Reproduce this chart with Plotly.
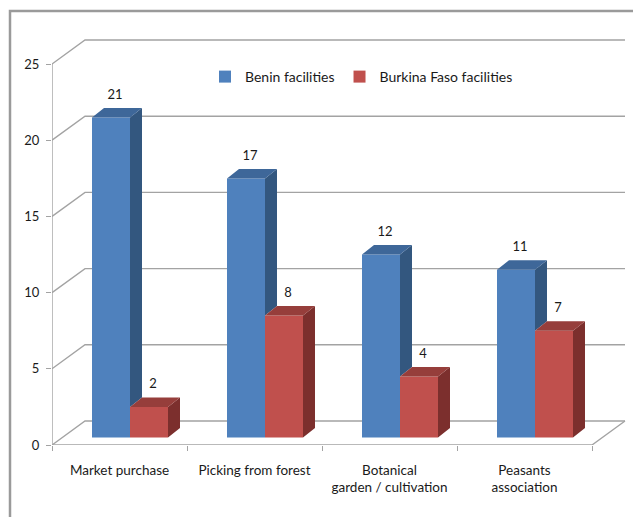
import plotly.graph_objects as go

# ---------------- data ----------------
categories = ["Market purchase", "Picking from forest", "Botanical<br>garden / cultivation", "Peasants<br>association"]
series_names = ["Benin facilities", "Burkina Faso facilities"]
benin = [21, 17, 12, 11]
burkina = [2, 8, 4, 7]
y_ticks = [0, 5, 10, 15, 20, 25]

# ---------------- style / geometry ----------------
W, H = 633, 517
PX_X = 135.0          # px per category
PX_Y = 15.24          # px per value unit
ML, MT, MB = 52, 12, 72
plot_w = W - ML
plot_h = H - MT - MB
XR = [0, plot_w / PX_X]
YR = [0, plot_h / PX_Y]
WALL_DX = 33 / PX_X   # depth of the 3D box
WALL_DY = 24 / PX_Y
BASE_DX = 10.5 / PX_X  # bars sit a bit into the depth
BASE_DY = 7.5 / PX_Y
BAR_W = 38 / PX_X
SIDE_DX = 12 / PX_X
SIDE_DY = 9.5 / PX_Y
LABEL_GAP = 6 / PX_Y
GRID = "#a3a3a3"
FONT = "Lato"

front_col = ["#4f81bd", "#c0504d"]
top_col = ["#3e6799", "#963e3b"]
side_col = ["#33577f", "#7c2f2d"]

n = len(categories)
fig = go.Figure()

# ---- box: gridlines on back wall, left wall diagonals, floor, front axis ----
gx, gy = [], []
for t in y_ticks:
    gx += [0, WALL_DX, WALL_DX + n, None]
    gy += [t, t + WALL_DY, t + WALL_DY, None]
gx += [0, n, n + WALL_DX, None, 0, 0, None]
gy += [0, 0, WALL_DY, None, 0, y_ticks[-1], None]
fig.add_trace(go.Scatter(x=gx, y=gy, mode="lines", line=dict(color=GRID, width=1.4),
                         hoverinfo="skip", showlegend=False, cliponaxis=False))

series = [benin, burkina]
lefts = []
for s in range(2):
    lefts.append([i + 0.5 + BASE_DX - BAR_W + s * BAR_W for i in range(n)])

# front faces as bars (on an overlaid pair of axes so they sit above the grid)
for s in range(2):
    fig.add_trace(go.Bar(
        x=[l + BAR_W / 2 for l in lefts[s]], y=series[s], base=[BASE_DY] * n,
        width=BAR_W, marker=dict(color=front_col[s], line=dict(width=0)),
        name=series_names[s], hoverinfo="skip", xaxis="x2", yaxis="y2"))

# top and side faces (computed from values)
for s in range(2):
    tx, ty, sx, sy = [], [], [], []
    for i in range(n):
        l = lefts[s][i]
        r = l + BAR_W
        top = series[s][i] + BASE_DY
        tx += [l, r, r + SIDE_DX, l + SIDE_DX, l, None]
        ty += [top, top, top + SIDE_DY, top + SIDE_DY, top, None]
        low = BASE_DY
        if s == 0:
            # part hidden behind the neighbouring red bar
            low = min(max(burkina[i] + BASE_DY, BASE_DY), top)
        sx += [r, r + SIDE_DX, r + SIDE_DX, r, r, None]
        sy += [low, low + SIDE_DY, top + SIDE_DY, top, low, None]
    fig.add_trace(go.Scatter(x=sx, y=sy, mode="lines", fill="toself", fillcolor=side_col[s],
                             line=dict(width=0, color=side_col[s]), hoverinfo="skip",
                             showlegend=False, xaxis="x2", yaxis="y2"))
    fig.add_trace(go.Scatter(x=tx, y=ty, mode="lines", fill="toself", fillcolor=top_col[s],
                             line=dict(width=0, color=top_col[s]), hoverinfo="skip",
                             showlegend=False, xaxis="x2", yaxis="y2"))

# value labels
for s in range(2):
    fig.add_trace(go.Scatter(
        x=[l + BAR_W / 2 + SIDE_DX / 3 for l in lefts[s]],
        y=[v + BASE_DY + SIDE_DY + LABEL_GAP for v in series[s]],
        mode="text", text=[str(v) for v in series[s]], textposition="top center",
        textfont=dict(family=FONT, size=13, color="#1a1a1a"),
        hoverinfo="skip", showlegend=False, cliponaxis=False, xaxis="x2", yaxis="y2"))

# outer frame
fx0 = (10 - ML) / plot_w
fy1 = (H - MB - 11) / plot_h
fig.add_shape(type="path", xref="paper", yref="paper",
              path=f"M {fx0},-0.3 L {fx0},{fy1} L 1.05,{fy1}",
              line=dict(color="#9a9a9a", width=2.5))

fig.update_layout(
    width=W, height=H, margin=dict(l=ML, r=0, t=MT, b=MB),
    paper_bgcolor="white", plot_bgcolor="white",
    barmode="overlay",
    font=dict(family=FONT, size=13, color="#1a1a1a"),
    xaxis=dict(range=XR, showgrid=False, zeroline=False, showline=False,
               tickmode="array", tickvals=[i + 0.5 for i in range(n)], ticktext=categories,
               ticks="", ticklabelstandoff=15, tickfont=dict(size=13.5),
               minor=dict(tickmode="linear", tick0=0, dtick=1, ticks="outside", ticklen=5,
                          tickcolor=GRID, tickwidth=1.4, showgrid=False)),
    yaxis=dict(range=YR, showgrid=False, zeroline=False, showline=False,
               tickmode="array", tickvals=y_ticks, ticks="outside", ticklen=5,
               tickcolor=GRID, tickwidth=1.4, ticklabelstandoff=4, tickfont=dict(size=13)),
    xaxis2=dict(range=XR, overlaying="x", visible=False),
    yaxis2=dict(range=YR, overlaying="y", visible=False),
    legend=dict(orientation="h", x=(205 - ML) / plot_w, y=(H - MB - 77) / plot_h,
                xanchor="left", yanchor="middle", bgcolor="rgba(0,0,0,0)",
                font=dict(size=14), traceorder="normal"),
    showlegend=True,
)

fig.write_html("out.html")
